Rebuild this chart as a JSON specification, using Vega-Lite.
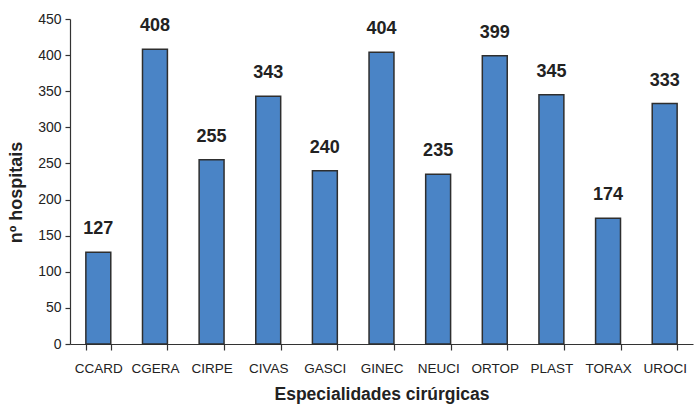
{
  "$schema": "https://vega.github.io/schema/vega-lite/v6.json",
  "autosize": "none",
  "width": 623,
  "height": 325,
  "padding": {"left": 70, "top": 19, "right": 1, "bottom": 64},
  "background": "white",
  "config": {
    "view": {"stroke": null},
    "font": "Liberation Sans, Arial, sans-serif"
  },
  "data": {
    "values": [
      {"especialidade": "CCARD", "hospitais": 127},
      {"especialidade": "CGERA", "hospitais": 408},
      {"especialidade": "CIRPE", "hospitais": 255},
      {"especialidade": "CIVAS", "hospitais": 343},
      {"especialidade": "GASCI", "hospitais": 240},
      {"especialidade": "GINEC", "hospitais": 404},
      {"especialidade": "NEUCI", "hospitais": 235},
      {"especialidade": "ORTOP", "hospitais": 399},
      {"especialidade": "PLAST", "hospitais": 345},
      {"especialidade": "TORAX", "hospitais": 174},
      {"especialidade": "UROCI", "hospitais": 333}
    ]
  },
  "encoding": {
    "x": {
      "field": "especialidade",
      "type": "nominal",
      "sort": null,
      "scale": {"paddingInner": 0.56, "paddingOuter": 0.28},
      "axis": {
        "title": "Especialidades cirúrgicas",
        "titleFontSize": 17.5,
        "titleFontWeight": "bold",
        "titleColor": "#222222",
        "titlePadding": 11,
        "labelAngle": 0,
        "labelFontSize": 13.5,
        "labelColor": "#222222",
        "labelPadding": 11,
        "tickBand": "extent",
        "tickSize": 6,
        "tickColor": "#333333",
        "domainColor": "#333333",
        "domainWidth": 1.2,
        "tickWidth": 1.2
      }
    },
    "y": {
      "field": "hospitais",
      "type": "quantitative",
      "scale": {"domain": [0, 450], "nice": false},
      "axis": {
        "title": "nº hospitais",
        "titleFontSize": 18,
        "titleFontWeight": "bold",
        "titleColor": "#222222",
        "titlePadding": 12,
        "titleY": 173,
        "values": [0, 50, 100, 150, 200, 250, 300, 350, 400, 450],
        "labelFontSize": 14,
        "labelColor": "#222222",
        "labelPadding": 4,
        "grid": false,
        "tickSize": 5,
        "tickColor": "#333333",
        "domainColor": "#333333",
        "domainWidth": 1.2,
        "tickWidth": 1.2
      }
    }
  },
  "layer": [
    {
      "mark": {"type": "bar", "fill": "#4a84c6", "stroke": "#2e2e2e", "strokeWidth": 1.5}
    },
    {
      "mark": {
        "type": "text",
        "baseline": "middle",
        "dy": -23,
        "fontSize": 18,
        "fontWeight": "bold",
        "color": "#222222"
      },
      "encoding": {"text": {"field": "hospitais", "type": "quantitative"}}
    }
  ]
}
